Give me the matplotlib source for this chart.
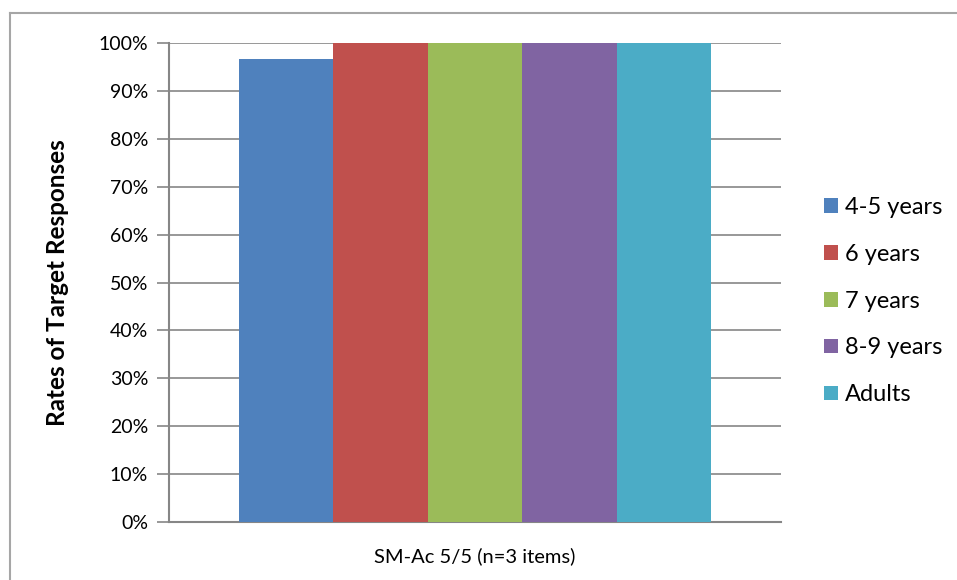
import matplotlib.pyplot as plt
from matplotlib.patches import Patch
from matplotlib.lines import Line2D

plt.rcParams['font.family'] = ['Lato', 'DejaVu Sans']

category = ['SM-Ac 5/5 (n=3 items)']
groups = ['4-5 years', '6 years', '7 years', '8-9 years', 'Adults']
rates = [0.967, 1.0, 1.0, 1.0, 1.0]
colors = ['#4f81bd', '#c0504d', '#9bbb59', '#8064a2', '#4bacc6']

fig = plt.figure(figsize=(9.57, 5.80), dpi=100)
ax = fig.add_axes([169/957, 58/580, 612/957, 479/580])

# five bars side by side around the single category
width = 0.1543
for i, (g, v, c) in enumerate(zip(groups, rates, colors)):
    ax.bar(0 + (i - 2) * width, v, width, color=c, label=g, zorder=3)

ax.set_xlim(-0.5, 0.5)
ax.set_ylim(0, 1.0)
ax.set_yticks([i / 10 for i in range(11)])
ax.set_yticklabels([f'{i*10}%' for i in range(11)], fontsize=14)
ax.set_xticks([0])
ax.set_xticklabels(category, fontsize=14.5)
ax.tick_params(axis='x', length=0, pad=18)
ax.tick_params(axis='y', length=9, width=1.2, color='#868686', pad=6)

ax.grid(axis='y', color='#868686', linewidth=1.2, zorder=0)
for s in ['top', 'right']:
    ax.spines[s].set_visible(False)
for s in ['left', 'bottom']:
    ax.spines[s].set_color('#868686')
    ax.spines[s].set_linewidth(1.5)
ax.set_ylabel('Rates of Target Responses', fontsize=17.5, fontweight='bold')
ax.yaxis.set_label_coords(-100/612, 0.5)

handles = [Patch(facecolor=c, label=g) for g, c in zip(groups, colors)]
fig.legend(handles=handles, loc='center left', bbox_to_anchor=(815/957, 1 - 301/580),
           frameon=False, fontsize=17, handlelength=0.58, handleheight=0.58,
           handletextpad=0.3, labelspacing=1.1, borderaxespad=0)

# outer chart border (left and top edges)
fig.add_artist(Line2D([10/957, 10/957], [0, 1 - 13/580], transform=fig.transFigure,
                      color='#a6a6a6', linewidth=1.5))
fig.add_artist(Line2D([10/957, 1], [1 - 13/580, 1 - 13/580], transform=fig.transFigure,
                      color='#a6a6a6', linewidth=1.5))

fig.savefig('out.png', dpi=100)
